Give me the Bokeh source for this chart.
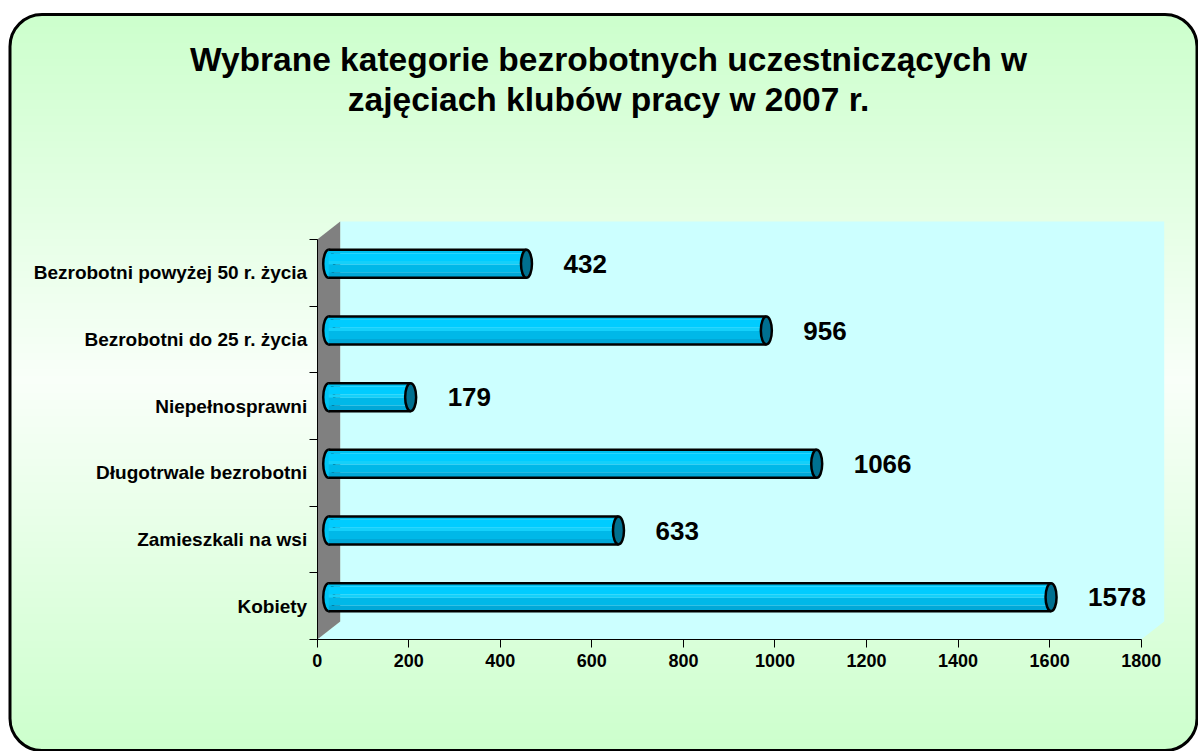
import numpy as np
from bokeh.plotting import figure
from bokeh.models import ColumnDataSource, LinearAxis, FixedTicker, BoxAnnotation, Range1d
from bokeh.core.properties import value
from bokeh.embed import file_html
from bokeh.resources import INLINE

# ---------------- data ----------------
categories = ["Kobiety", "Zamieszkali na wsi", "Długotrwale bezrobotni",
              "Niepełnosprawni", "Bezrobotni do 25 r. życia",
              "Bezrobotni powyżej 50 r. życia"]
values = [1578, 633, 1066, 179, 956, 432]
x_ticks = [0, 200, 400, 600, 800, 1000, 1200, 1400, 1600, 1800]
title_lines = ["Wybrane kategorie bezrobotnych uczestniczących w",
               "zajęciach klubów pracy w 2007 r."]

# ---------------- layout helpers (page pixels -> data) ----------------
W, H = 1198, 751
OFF = 0
X0 = 316.7
XSCALE = (1140.7 - 316.7) / 1800.0
YB = 639.0
BAND = 400.0 / 6.0


def to_x(px):
    return (px - X0) / XSCALE


def to_y(py):
    return (YB - py) / BAND - 0.5


DXU = 23.0 / XSCALE   # depth offset in x data units
DYU = 18.0 / BAND     # depth offset in y data units
FONT = "Liberation Sans"

p = figure(width=W, height=H,
           x_range=Range1d(to_x(OFF), to_x(OFF + W)),
           y_range=Range1d(to_y(OFF + H), to_y(OFF)),
           output_backend="svg", toolbar_location=None,
           x_axis_location=None, y_axis_location=None,
           min_border=0, outline_line_color=None,
           background_fill_color="white", border_fill_color="white")
p.title.visible = False
p.xgrid.visible = False
p.ygrid.visible = False

# ---------------- chart-area gradient background ----------------
top, bottom, left, right, R = 14.0, 750.0, 9.5, 1196.5, 32
step = 2.0
ys = np.arange(top, bottom, step)
ql, qr, qt, qb, qc = [], [], [], [], []
for y0 in ys:
    mid = y0 + step / 2
    inset = 0.0
    dt = mid - top
    db = bottom - mid
    if dt < R:
        inset = R - np.sqrt(max(R * R - (R - dt) ** 2, 0))
    elif db < R:
        inset = R - np.sqrt(max(R * R - (R - db) ** 2, 0))
    if mid < 380:
        f = (380 - mid) / (380 - top)
    else:
        f = (mid - 380) / (bottom - 380)
    c = int(round(249 - 45 * f))
    ql.append(to_x(left + inset))
    qr.append(to_x(right - inset))
    qt.append(to_y(y0))
    qb.append(to_y(min(y0 + step + 0.8, bottom)))
    qc.append("#%02xff%02x" % (c, c))
p.quad(left=ql, right=qr, top=qt, bottom=qb, fill_color=qc, line_color=None)

# ---------------- 3D walls ----------------
xmax = x_ticks[-1]
n = len(categories)
p.patch([0, xmax, xmax + DXU, xmax + DXU, DXU, DXU],
        [-0.5, -0.5, -0.5 + DYU, n - 0.5 + DYU, n - 0.5 + DYU, -0.5 + DYU],
        fill_color="#ccffff", line_color=None)
p.patch([0, 0, DXU, DXU],
        [-0.5, n - 0.5, n - 0.5 + DYU, -0.5 + DYU],
        fill_color="#808080", line_color=None)

# ---------------- cylinders ----------------
yc = np.arange(n) + DYU / 2
bh = 28.0 / BAND
x_start = DXU / 2
x_end = np.array(values, dtype=float) + DXU / 2
cap_w = 11.0 / XSCALE

src = ColumnDataSource(dict(cat=categories, val=values, yc=yc, xe=x_end,
                            xs=[x_start] * n,
                            lbl=[str(v) for v in values],
                            lx=x_end + 37.0 / XSCALE))

# left rounded end
p.ellipse(x="xs", y="yc", width=cap_w, height=bh, source=src,
          fill_color="#00c4f4", line_color="black", line_width=2.5)

bands = [(0.00, 0.12, "#00c2f2"), (0.12, 0.40, "#00ccff"),
         (0.40, 0.52, "#14d0fa"), (0.52, 0.80, "#00b8e8"),
         (0.80, 1.00, "#00a8d8")]
for f0, f1, col in bands:
    p.quad(left=[x_start] * n, right=list(x_end),
           top=list(yc + bh / 2 - f0 * bh), bottom=list(yc + bh / 2 - f1 * bh),
           fill_color=col, line_color=None)

p.segment(x0=[x_start] * n, x1=list(x_end), y0=list(yc + bh / 2), y1=list(yc + bh / 2),
          line_color="black", line_width=2.5)
p.segment(x0=[x_start] * n, x1=list(x_end), y0=list(yc - bh / 2), y1=list(yc - bh / 2),
          line_color="black", line_width=2.5)

# right cap
p.ellipse(x="xe", y="yc", width=cap_w, height=bh, source=src,
          fill_color="#007090", line_color="black", line_width=2.5)

# value labels
p.text(x="lx", y="yc", text="lbl", source=src, text_align="left",
       text_baseline="middle", text_font=value(FONT), text_font_style="bold",
       text_font_size="26px", text_color="black")

# ---------------- axes ----------------
xaxis = LinearAxis(fixed_location=-0.5, bounds=(0, xmax),
                   ticker=FixedTicker(ticks=x_ticks),
                   major_tick_out=8, major_tick_in=0,
                   minor_tick_out=0, minor_tick_in=0,
                   axis_line_color="black", major_tick_line_color="black",
                   major_label_standoff=6,
                   major_label_text_font=FONT, major_label_text_font_style="bold",
                   major_label_text_font_size="18px", major_label_text_color="black")
p.add_layout(xaxis, "below")

yaxis = LinearAxis(fixed_location=0, bounds=(-0.5, n - 0.5),
                   ticker=FixedTicker(ticks=list(range(n)),
                                      minor_ticks=[i - 0.5 for i in range(n + 1)]),
                   major_tick_out=0, major_tick_in=0,
                   minor_tick_out=8, minor_tick_in=0,
                   minor_tick_line_color="black",
                   axis_line_color="black",
                   major_label_overrides={i: c for i, c in enumerate(categories)},
                   major_label_standoff=2,
                   major_label_text_font=FONT, major_label_text_font_style="bold",
                   major_label_text_font_size="19px", major_label_text_color="black")
p.add_layout(yaxis, "left")

# ---------------- title ----------------
p.text(x=[to_x(608), to_x(608)], y=[to_y(59), to_y(99)], text=title_lines,
       text_align="center", text_baseline="alphabetic",
       text_font=value(FONT), text_font_style="bold", text_font_size="33.5px",
       text_color="black")

# ---------------- rounded frame ----------------
p.add_layout(BoxAnnotation(left=to_x(left), right=to_x(right),
                           top=to_y(top), bottom=to_y(bottom),
                           fill_color=None, fill_alpha=0,
                           line_color="black", line_alpha=1.0, line_width=3,
                           border_radius=R))

open("out.html", "w").write(file_html(p, INLINE))
